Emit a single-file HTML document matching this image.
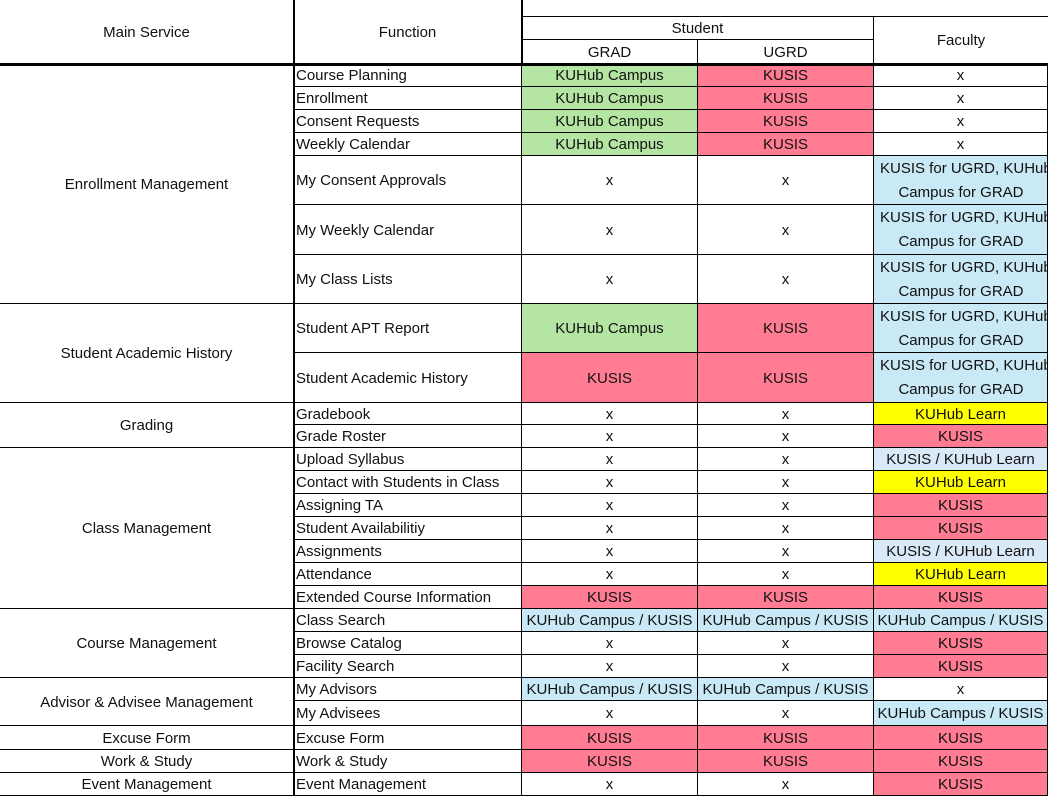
<!DOCTYPE html>
<html><head><meta charset="utf-8"><style>
body{margin:0;width:1048px;height:796px;overflow:hidden;background:#fff;font-family:"Liberation Sans",sans-serif;font-size:15px;color:#111;position:relative}
.c{position:absolute;box-sizing:border-box;border-right:1px solid #000;border-bottom:1px solid #000;display:flex;align-items:center;justify-content:center;text-align:center;line-height:24px;overflow:hidden;white-space:nowrap;padding-top:2px}
.l{justify-content:flex-start;padding-left:2px}
.w{display:block;white-space:nowrap;padding:1px 0 0 0;text-align:center}
.w span{display:block;width:174px}
.w span.f{text-align:left;padding-left:6px;box-sizing:border-box}
.g{background:#b4e5a2}.p{background:#ff7c93}.b{background:#c9e9f6}.d{background:#dae9f8}.y{background:#ffff00}
.tk{position:absolute;background:#000}
</style></head><body>
<!-- header -->
<div class="c" style="left:0;top:0;width:294px;height:64px">Main Service</div>
<div class="c" style="left:294px;top:0;width:228px;height:64px">Function</div>
<div class="c" style="left:522px;top:0;width:526px;height:17px;border-right:none"></div>
<div class="c" style="left:522px;top:17px;width:352px;height:23px">Student</div>
<div class="c" style="left:874px;top:17px;width:174px;height:47px;border-right:none">Faculty</div>
<div class="c" style="left:522px;top:40px;width:176px;height:24px">GRAD</div>
<div class="c" style="left:698px;top:40px;width:176px;height:24px">UGRD</div>

<!-- main service -->
<div class="c" style="left:0;top:64px;width:294px;height:240px">Enrollment Management</div>
<div class="c" style="left:0;top:304px;width:294px;height:99px">Student Academic History</div>
<div class="c" style="left:0;top:403px;width:294px;height:45px">Grading</div>
<div class="c" style="left:0;top:448px;width:294px;height:161px">Class Management</div>
<div class="c" style="left:0;top:609px;width:294px;height:69px">Course Management</div>
<div class="c" style="left:0;top:678px;width:294px;height:48px">Advisor &amp; Advisee Management</div>
<div class="c" style="left:0;top:726px;width:294px;height:24px">Excuse Form</div>
<div class="c" style="left:0;top:750px;width:294px;height:23px">Work &amp; Study</div>
<div class="c" style="left:0;top:773px;width:294px;height:23px">Event Management</div>

<!-- rows -->
<div class="c l" style="left:294px;top:64px;width:228px;height:23px">Course Planning</div>
<div class="c g" style="left:522px;top:64px;width:176px;height:23px">KUHub Campus</div>
<div class="c p" style="left:698px;top:64px;width:176px;height:23px">KUSIS</div>
<div class="c" style="left:874px;top:64px;width:174px;height:23px">x</div>

<div class="c l" style="left:294px;top:87px;width:228px;height:23px">Enrollment</div>
<div class="c g" style="left:522px;top:87px;width:176px;height:23px">KUHub Campus</div>
<div class="c p" style="left:698px;top:87px;width:176px;height:23px">KUSIS</div>
<div class="c" style="left:874px;top:87px;width:174px;height:23px">x</div>

<div class="c l" style="left:294px;top:110px;width:228px;height:23px">Consent Requests</div>
<div class="c g" style="left:522px;top:110px;width:176px;height:23px">KUHub Campus</div>
<div class="c p" style="left:698px;top:110px;width:176px;height:23px">KUSIS</div>
<div class="c" style="left:874px;top:110px;width:174px;height:23px">x</div>

<div class="c l" style="left:294px;top:133px;width:228px;height:23px">Weekly Calendar</div>
<div class="c g" style="left:522px;top:133px;width:176px;height:23px">KUHub Campus</div>
<div class="c p" style="left:698px;top:133px;width:176px;height:23px">KUSIS</div>
<div class="c" style="left:874px;top:133px;width:174px;height:23px">x</div>

<div class="c l" style="left:294px;top:156px;width:228px;height:49px">My Consent Approvals</div>
<div class="c" style="left:522px;top:156px;width:176px;height:49px">x</div>
<div class="c" style="left:698px;top:156px;width:176px;height:49px">x</div>
<div class="c b w" style="left:874px;top:156px;width:174px;height:49px"><span class="f">KUSIS for UGRD, KUHub</span><span>Campus for GRAD</span></div>

<div class="c l" style="left:294px;top:205px;width:228px;height:50px">My Weekly Calendar</div>
<div class="c" style="left:522px;top:205px;width:176px;height:50px">x</div>
<div class="c" style="left:698px;top:205px;width:176px;height:50px">x</div>
<div class="c b w" style="left:874px;top:205px;width:174px;height:50px"><span class="f">KUSIS for UGRD, KUHub</span><span>Campus for GRAD</span></div>

<div class="c l" style="left:294px;top:255px;width:228px;height:49px">My Class Lists</div>
<div class="c" style="left:522px;top:255px;width:176px;height:49px">x</div>
<div class="c" style="left:698px;top:255px;width:176px;height:49px">x</div>
<div class="c b w" style="left:874px;top:255px;width:174px;height:49px"><span class="f">KUSIS for UGRD, KUHub</span><span>Campus for GRAD</span></div>

<div class="c l" style="left:294px;top:304px;width:228px;height:49px">Student APT Report</div>
<div class="c g" style="left:522px;top:304px;width:176px;height:49px">KUHub Campus</div>
<div class="c p" style="left:698px;top:304px;width:176px;height:49px">KUSIS</div>
<div class="c b w" style="left:874px;top:304px;width:174px;height:49px"><span class="f">KUSIS for UGRD, KUHub</span><span>Campus for GRAD</span></div>

<div class="c l" style="left:294px;top:353px;width:228px;height:50px">Student Academic History</div>
<div class="c p" style="left:522px;top:353px;width:176px;height:50px">KUSIS</div>
<div class="c p" style="left:698px;top:353px;width:176px;height:50px">KUSIS</div>
<div class="c b w" style="left:874px;top:353px;width:174px;height:50px"><span class="f">KUSIS for UGRD, KUHub</span><span>Campus for GRAD</span></div>

<div class="c l" style="left:294px;top:403px;width:228px;height:22px">Gradebook</div>
<div class="c" style="left:522px;top:403px;width:176px;height:22px">x</div>
<div class="c" style="left:698px;top:403px;width:176px;height:22px">x</div>
<div class="c y" style="left:874px;top:403px;width:174px;height:22px">KUHub Learn</div>

<div class="c l" style="left:294px;top:425px;width:228px;height:23px">Grade Roster</div>
<div class="c" style="left:522px;top:425px;width:176px;height:23px">x</div>
<div class="c" style="left:698px;top:425px;width:176px;height:23px">x</div>
<div class="c p" style="left:874px;top:425px;width:174px;height:23px">KUSIS</div>

<div class="c l" style="left:294px;top:448px;width:228px;height:23px">Upload Syllabus</div>
<div class="c" style="left:522px;top:448px;width:176px;height:23px">x</div>
<div class="c" style="left:698px;top:448px;width:176px;height:23px">x</div>
<div class="c d" style="left:874px;top:448px;width:174px;height:23px">KUSIS / KUHub Learn</div>

<div class="c l" style="left:294px;top:471px;width:228px;height:23px">Contact with Students in Class</div>
<div class="c" style="left:522px;top:471px;width:176px;height:23px">x</div>
<div class="c" style="left:698px;top:471px;width:176px;height:23px">x</div>
<div class="c y" style="left:874px;top:471px;width:174px;height:23px">KUHub Learn</div>

<div class="c l" style="left:294px;top:494px;width:228px;height:23px">Assigning TA</div>
<div class="c" style="left:522px;top:494px;width:176px;height:23px">x</div>
<div class="c" style="left:698px;top:494px;width:176px;height:23px">x</div>
<div class="c p" style="left:874px;top:494px;width:174px;height:23px">KUSIS</div>

<div class="c l" style="left:294px;top:517px;width:228px;height:23px">Student Availabilitiy</div>
<div class="c" style="left:522px;top:517px;width:176px;height:23px">x</div>
<div class="c" style="left:698px;top:517px;width:176px;height:23px">x</div>
<div class="c p" style="left:874px;top:517px;width:174px;height:23px">KUSIS</div>

<div class="c l" style="left:294px;top:540px;width:228px;height:23px">Assignments</div>
<div class="c" style="left:522px;top:540px;width:176px;height:23px">x</div>
<div class="c" style="left:698px;top:540px;width:176px;height:23px">x</div>
<div class="c d" style="left:874px;top:540px;width:174px;height:23px">KUSIS / KUHub Learn</div>

<div class="c l" style="left:294px;top:563px;width:228px;height:23px">Attendance</div>
<div class="c" style="left:522px;top:563px;width:176px;height:23px">x</div>
<div class="c" style="left:698px;top:563px;width:176px;height:23px">x</div>
<div class="c y" style="left:874px;top:563px;width:174px;height:23px">KUHub Learn</div>

<div class="c l" style="left:294px;top:586px;width:228px;height:23px">Extended Course Information</div>
<div class="c p" style="left:522px;top:586px;width:176px;height:23px">KUSIS</div>
<div class="c p" style="left:698px;top:586px;width:176px;height:23px">KUSIS</div>
<div class="c p" style="left:874px;top:586px;width:174px;height:23px">KUSIS</div>

<div class="c l" style="left:294px;top:609px;width:228px;height:23px">Class Search</div>
<div class="c b" style="left:522px;top:609px;width:176px;height:23px">KUHub Campus / KUSIS</div>
<div class="c b" style="left:698px;top:609px;width:176px;height:23px">KUHub Campus / KUSIS</div>
<div class="c b" style="left:874px;top:609px;width:174px;height:23px">KUHub Campus / KUSIS</div>

<div class="c l" style="left:294px;top:632px;width:228px;height:23px">Browse Catalog</div>
<div class="c" style="left:522px;top:632px;width:176px;height:23px">x</div>
<div class="c" style="left:698px;top:632px;width:176px;height:23px">x</div>
<div class="c p" style="left:874px;top:632px;width:174px;height:23px">KUSIS</div>

<div class="c l" style="left:294px;top:655px;width:228px;height:23px">Facility Search</div>
<div class="c" style="left:522px;top:655px;width:176px;height:23px">x</div>
<div class="c" style="left:698px;top:655px;width:176px;height:23px">x</div>
<div class="c p" style="left:874px;top:655px;width:174px;height:23px">KUSIS</div>

<div class="c l" style="left:294px;top:678px;width:228px;height:23px">My Advisors</div>
<div class="c b" style="left:522px;top:678px;width:176px;height:23px">KUHub Campus / KUSIS</div>
<div class="c b" style="left:698px;top:678px;width:176px;height:23px">KUHub Campus / KUSIS</div>
<div class="c" style="left:874px;top:678px;width:174px;height:23px">x</div>

<div class="c l" style="left:294px;top:701px;width:228px;height:25px">My Advisees</div>
<div class="c" style="left:522px;top:701px;width:176px;height:25px">x</div>
<div class="c" style="left:698px;top:701px;width:176px;height:25px">x</div>
<div class="c b" style="left:874px;top:701px;width:174px;height:25px">KUHub Campus / KUSIS</div>

<div class="c l" style="left:294px;top:726px;width:228px;height:24px">Excuse Form</div>
<div class="c p" style="left:522px;top:726px;width:176px;height:24px">KUSIS</div>
<div class="c p" style="left:698px;top:726px;width:176px;height:24px">KUSIS</div>
<div class="c p" style="left:874px;top:726px;width:174px;height:24px">KUSIS</div>

<div class="c l" style="left:294px;top:750px;width:228px;height:23px">Work &amp; Study</div>
<div class="c p" style="left:522px;top:750px;width:176px;height:23px">KUSIS</div>
<div class="c p" style="left:698px;top:750px;width:176px;height:23px">KUSIS</div>
<div class="c p" style="left:874px;top:750px;width:174px;height:23px">KUSIS</div>

<div class="c l" style="left:294px;top:773px;width:228px;height:23px">Event Management</div>
<div class="c" style="left:522px;top:773px;width:176px;height:23px">x</div>
<div class="c" style="left:698px;top:773px;width:176px;height:23px">x</div>
<div class="c p" style="left:874px;top:773px;width:174px;height:23px">KUSIS</div>

<!-- thick lines -->
<div class="tk" style="left:0;top:63px;width:1048px;height:3px"></div>
<div class="tk" style="left:293px;top:0;width:2px;height:796px"></div>
<div class="tk" style="left:521px;top:0;width:2px;height:64px"></div>
</body></html>
